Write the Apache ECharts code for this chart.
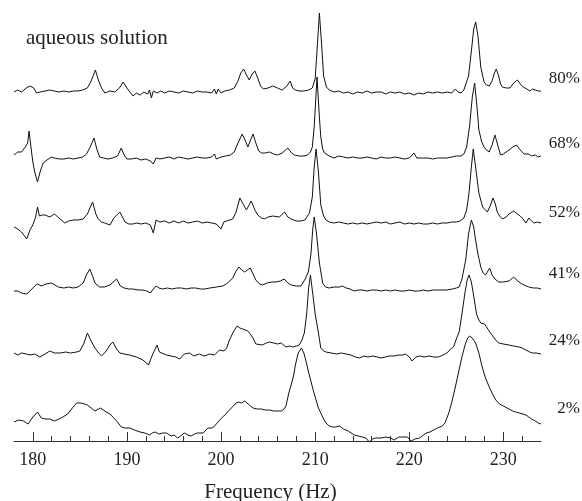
<!DOCTYPE html>
<html>
<head>
<meta charset="utf-8">
<script src="https://cdn.jsdelivr.net/npm/echarts@6/dist/echarts.min.js"></script>
<style>html,body{margin:0;padding:0;background:#fff}#c{width:582px;height:501px}</style>
</head>
<body>
<div id="c"></div>
<script>
// Spectra: [frequency (Hz), intensity relative to trace baseline (arb. units)]
const s80 = [[178.0,-1],[178.4,1],[178.8,-1],[179.3,3],[179.7,5],[180.1,3],[180.4,-2],[180.8,-1],[181.3,0],[181.8,1],[182.3,0],[182.8,-1],[183.3,0],[183.8,-1],[184.3,0],[184.8,0],[185.3,1],[185.8,3],[186.2,10],[186.65,21],[187.0,10],[187.3,3],[187.65,-2],[188.2,0],[188.7,-1],[189.2,3],[189.6,9],[190.0,3],[190.3,-1],[190.65,-5],[191.0,-2],[191.4,-4],[191.8,-1],[192.2,-3],[192.4,1],[192.6,-7],[192.8,0],[193.2,-2],[193.6,0],[194.0,-2],[194.5,0],[195.0,-1],[195.5,-2],[196.0,0],[196.5,-1],[197.0,-2],[197.5,0],[198.0,-1],[198.5,-1],[199.0,-2],[199.3,2],[199.5,-3],[199.7,2],[200.0,-2],[200.4,0],[200.9,1],[201.4,3],[201.8,10],[202.1,18],[202.4,22],[202.7,16],[203.0,11],[203.3,17],[203.6,20],[203.9,13],[204.2,5],[204.5,2],[205.0,3],[205.5,5],[206.0,3],[206.5,1],[207.0,5],[207.35,10],[207.6,3],[207.9,1],[208.3,0],[208.8,0],[209.3,1],[209.7,3],[210.0,12],[210.2,40],[210.45,78],[210.7,45],[210.9,15],[211.2,4],[211.5,1],[212.0,-1],[212.5,0],[213.0,-2],[213.5,-1],[214.0,-3],[214.5,-1],[215.0,-2],[215.5,0],[216.0,-2],[216.5,-1],[217.0,-1],[217.5,-3],[218.0,-1],[218.5,-2],[219.0,-1],[219.5,-3],[220.0,-2],[220.5,-4],[221.0,-2],[221.5,-3],[222.0,-1],[222.5,-2],[223.0,-1],[223.5,-2],[224.0,-1],[224.5,-2],[224.9,2],[225.2,-1],[225.5,-2],[225.8,1],[226.0,3],[226.3,15],[226.6,40],[226.85,62],[227.06,69],[227.3,55],[227.6,24],[227.95,9],[228.2,6],[228.5,5],[228.8,10],[229.05,18],[229.25,22],[229.5,15],[229.7,7],[229.9,4],[230.3,3],[230.7,3],[231.1,8],[231.5,11],[231.8,7],[232.1,4],[232.5,2],[232.8,0],[233.1,2],[233.4,1],[233.7,0],[234.0,0]];
const s68 = [[178.0,2],[178.4,5],[178.8,5],[179.2,10],[179.45,14],[179.6,26],[179.8,10],[180.0,-5],[180.2,-15],[180.5,-25],[180.8,-14],[181.1,-6],[181.5,-3],[182.0,0],[182.3,-1],[182.8,-2],[183.3,-2],[183.8,-1],[184.3,-2],[184.8,-1],[185.3,0],[185.7,3],[186.1,10],[186.5,19],[186.8,8],[187.1,0],[187.5,-1],[188.0,-2],[188.5,-1],[189.0,1],[189.4,9],[189.7,2],[190.0,-2],[190.5,-2],[191.0,-1],[191.5,-3],[192.0,-2],[192.5,-4],[192.8,-7],[193.1,-1],[193.5,-2],[194.0,-1],[194.5,0],[195.0,-2],[195.5,0],[196.0,-1],[196.5,-2],[197.0,-1],[197.5,0],[198.0,-1],[198.5,-1],[199.0,0],[199.3,3],[199.5,-2],[200.0,0],[200.5,1],[201.0,2],[201.4,5],[201.8,14],[202.25,23],[202.6,16],[202.85,10],[203.1,16],[203.4,23],[203.7,14],[204.0,6],[204.3,4],[204.7,4],[205.15,5],[205.6,3],[206.0,2],[206.5,4],[207.1,9],[207.5,4],[207.8,2],[208.3,1],[208.8,1],[209.2,2],[209.5,5],[209.7,10],[209.9,30],[210.2,80],[210.45,40],[210.6,20],[210.8,8],[211.0,4],[211.5,1],[212.0,-1],[212.5,1],[213.0,0],[213.5,-1],[214.0,0],[214.5,-1],[215.0,-1],[215.5,0],[216.0,-1],[216.5,-2],[217.0,0],[217.5,-1],[218.0,-1],[218.5,0],[219.0,-1],[219.5,-2],[220.0,-1],[220.5,4],[220.8,-1],[221.5,-1],[222.0,-1],[222.5,-2],[223.0,-1],[223.5,-1],[224.0,-1],[224.5,0],[225.0,1],[225.5,1],[225.8,3],[226.1,10],[226.4,30],[226.7,60],[226.95,74],[227.2,50],[227.4,27],[227.7,15],[227.95,10],[228.2,7],[228.5,5],[228.8,12],[229.1,22],[229.4,12],[229.7,2],[230.0,3],[230.6,7],[231.0,10],[231.4,12],[231.8,7],[232.2,3],[232.7,3],[233.0,1],[233.4,2],[233.7,0],[234.0,1]];
const s52 = [[178.0,-5],[178.4,-7],[178.8,-10],[179.35,-17],[179.7,-8],[180.0,-3],[180.3,5],[180.5,15],[180.7,6],[181.0,7],[181.3,7],[181.8,5],[182.3,8],[182.9,3],[183.4,-1],[183.8,1],[184.3,2],[184.8,2],[185.35,3],[185.8,8],[186.35,20],[186.7,8],[186.95,3],[187.3,0],[187.65,-1],[188.2,-3],[188.6,4],[189.25,10],[189.8,0],[190.2,-2],[190.65,-2],[191.0,-1],[191.5,-2],[192.0,-1],[192.5,-3],[192.8,-11],[193.1,2],[193.5,0],[194.0,1],[194.5,-1],[195.0,1],[195.5,-1],[196.0,1],[196.5,-1],[197.0,0],[197.5,1],[198.0,-1],[198.5,0],[199.0,-1],[199.5,-2],[200.0,-7],[200.3,0],[200.6,1],[201.25,3],[201.6,10],[202.0,24],[202.4,17],[202.7,12],[203.2,21],[203.6,12],[203.9,7],[204.3,4],[204.6,3],[205.0,5],[205.5,6],[206.2,5],[206.75,10],[207.1,5],[207.45,3],[208.0,1],[208.5,1],[208.9,2],[209.4,9],[209.7,25],[209.9,55],[210.1,73],[210.35,50],[210.6,17],[210.9,6],[211.15,2],[211.5,0],[212.0,-1],[212.5,0],[213.0,-1],[213.5,-2],[214.0,-1],[214.5,-2],[215.0,-1],[215.5,-2],[216.0,-1],[216.5,0],[217.0,-1],[217.5,0],[218.0,-2],[218.5,-1],[219.0,0],[219.5,-2],[220.0,-1],[220.5,-2],[221.0,-1],[221.5,-2],[222.0,-2],[222.5,-1],[223.0,-2],[223.5,-1],[224.0,-1],[224.5,0],[225.0,0],[225.4,1],[225.8,4],[226.1,12],[226.35,29],[226.6,55],[226.8,73],[227.05,55],[227.4,29],[227.8,15],[228.3,10],[228.6,16],[228.9,24],[229.15,18],[229.35,10],[229.6,6],[229.9,3],[230.3,5],[230.6,8],[231.1,11],[231.5,8],[231.8,6],[232.1,3],[232.4,-1],[232.7,4],[233.0,1],[233.25,-1],[233.6,0],[234.0,-1]];
const s41 = [[178.0,-2],[178.4,-2],[178.8,-4],[179.35,-5],[179.8,-1],[180.2,3],[180.5,5],[180.9,3],[181.4,5],[182.0,6],[182.7,2],[183.3,1],[183.8,2],[184.3,1],[184.8,2],[185.35,6],[185.7,14],[186.05,20],[186.35,13],[186.6,6],[187.1,2],[187.6,2],[188.2,4],[188.9,10],[189.3,3],[189.7,1],[190.2,0],[190.65,0],[191.2,-1],[191.7,-1],[192.1,-2],[192.5,-4],[192.8,0],[193.1,3],[193.4,1],[193.8,0],[194.3,1],[194.8,0],[195.3,1],[195.8,1],[196.3,0],[196.8,1],[197.3,1],[197.8,0],[198.3,0],[198.8,1],[199.5,2],[200.2,3],[200.7,6],[201.25,11],[201.6,18],[201.9,22],[202.2,19],[202.5,17],[202.8,19],[203.1,21],[203.4,15],[203.7,9],[204.1,5],[204.4,4],[204.9,6],[205.4,7],[205.85,7],[206.3,8],[206.7,10],[207.1,6],[207.45,4],[208.0,3],[208.5,3],[209.0,11],[209.3,18],[209.55,35],[209.75,60],[209.9,72],[210.15,55],[210.45,26],[210.8,6],[211.1,2],[211.5,1],[212.0,2],[212.6,2],[212.9,3],[213.3,1],[213.7,0],[214.15,-2],[214.6,-1],[215.0,-1],[215.5,-2],[216.0,-1],[216.5,-1],[217.0,-2],[217.5,-1],[218.0,-2],[218.5,-1],[219.0,-2],[219.5,-2],[220.0,-1],[220.5,-2],[221.0,-2],[221.5,-1],[222.0,-2],[222.5,-1],[223.0,-1],[223.5,-1],[224.0,-1],[224.6,0],[225.0,1],[225.3,2],[225.6,10],[226.0,29],[226.3,55],[226.6,69],[226.85,62],[227.05,49],[227.3,35],[227.6,22],[227.85,16],[228.1,14],[228.3,17],[228.55,21],[228.8,14],[229.1,10],[229.5,7],[230.0,7],[230.6,8],[231.1,12],[231.4,9],[231.8,6],[232.2,4],[232.7,2],[233.2,1],[233.6,1],[234.0,0]];
const s24 = [[178.0,1],[178.4,-1],[178.8,1],[179.3,0],[179.7,-1],[180.2,0],[180.75,-3],[181.3,0],[181.8,3],[182.3,1],[182.9,1],[183.5,2],[184.0,1],[184.65,2],[185.0,3],[185.4,10],[185.8,21],[186.2,13],[186.6,6],[187.0,1],[187.3,-2],[187.8,3],[188.2,9],[188.5,12],[188.9,5],[189.25,1],[189.7,0],[190.3,-1],[191.0,-3],[191.7,-6],[192.3,-11],[192.7,-1],[193.0,5],[193.2,9],[193.45,2],[193.65,0],[194.2,-1],[194.7,-2],[195.2,-3],[195.6,-5],[196.1,0],[196.65,1],[197.1,-2],[197.7,0],[198.2,-2],[198.8,0],[199.3,-1],[199.85,4],[200.3,3],[200.6,6],[200.9,14],[201.3,22],[201.7,28],[202.0,26],[202.3,25],[202.85,23],[203.1,20],[203.4,16],[203.7,10],[203.9,8],[204.4,9],[204.8,11],[205.15,12],[205.6,11],[206.0,10],[206.4,11],[206.9,7],[207.3,8],[207.6,7],[208.0,8],[208.3,9],[208.6,14],[208.85,21],[209.1,40],[209.3,65],[209.5,79],[209.75,60],[210.0,40],[210.3,24],[210.6,6],[210.9,3],[211.15,2],[211.7,1],[212.3,0],[212.8,1],[213.3,0],[213.8,-1],[214.3,-3],[214.7,-4],[215.2,-2],[215.6,-3],[216.1,-2],[216.6,-3],[217.0,-4],[217.5,-3],[217.9,-2],[218.4,-2],[218.9,-1],[219.3,-1],[219.6,0],[220.0,-3],[220.3,-7],[220.7,-3],[221.1,-2],[221.6,-3],[222.1,-2],[222.6,-3],[223.1,-3],[223.6,-1],[224.0,1],[224.4,5],[224.7,7],[225.0,15],[225.3,22],[225.6,40],[225.9,60],[226.15,74],[226.35,79],[226.6,72],[226.9,55],[227.15,40],[227.4,34],[227.6,31],[227.8,31],[228.0,30],[228.15,31],[228.35,25],[228.55,22],[228.8,19],[229.1,15],[229.5,11],[230.0,10],[230.6,9],[231.1,8],[231.65,7],[232.0,6],[232.4,4],[232.8,2],[233.1,1],[233.5,1],[234.0,0]];
const s02 = [[178.0,-2],[178.5,0],[179.0,-1],[179.5,-4],[180.0,3],[180.5,8],[180.9,2],[181.3,1],[181.8,1],[182.3,-1],[182.8,1],[183.2,3],[183.7,6],[184.2,12],[184.65,17],[185.1,17],[185.5,16],[185.8,15],[186.2,12],[186.6,9],[187.2,12],[187.5,10],[187.8,8],[188.2,6],[188.5,3],[189.0,-2],[189.4,-7],[189.8,-8],[190.3,-8],[190.8,-10],[191.4,-12],[191.9,-13],[192.4,-15],[192.7,-13],[193.0,-12],[193.4,-14],[193.8,-13],[194.2,-13],[194.7,-16],[195.0,-15],[195.4,-18],[195.7,-16],[196.1,-13],[196.5,-15],[196.8,-16],[197.2,-14],[197.5,-13],[198.1,-13],[198.6,-8],[199.1,-8],[199.5,-4],[199.85,0],[200.3,4],[200.7,8],[201.2,13],[201.6,17],[201.9,18],[202.15,17],[202.5,19],[202.7,18],[203.0,15],[203.4,12],[203.8,11],[204.3,11],[204.7,10],[205.15,10],[205.6,9],[206.0,9],[206.4,9],[206.7,11],[206.9,14],[207.2,27],[207.45,35],[207.7,44],[207.9,55],[208.2,67],[208.55,72],[208.8,67],[209.0,60],[209.3,48],[209.6,37],[209.85,28],[210.1,20],[210.35,12],[210.6,7],[210.9,1],[211.15,-3],[211.5,-6],[211.85,-7],[212.2,-7],[212.6,-6],[213.0,-9],[213.5,-11],[214.15,-15],[214.6,-16],[215.0,-17],[215.4,-18],[215.75,-22],[216.1,-19],[216.45,-18],[217.0,-18],[217.5,-17],[218.0,-18],[218.4,-20],[218.9,-17],[219.3,-17],[219.8,-17],[220.2,-21],[220.6,-19],[221.1,-18],[221.5,-15],[221.8,-13],[222.2,-12],[222.6,-10],[223.0,-8],[223.5,-6],[223.8,-3],[224.2,7],[224.5,17],[224.9,33],[225.2,46],[225.6,63],[225.9,74],[226.15,81],[226.4,84],[226.7,82],[227.05,77],[227.4,67],[227.75,53],[228.1,42],[228.5,33],[228.9,25],[229.2,20],[229.6,16],[230.0,14],[230.6,11],[231.0,9],[231.3,8],[231.7,7],[232.1,6],[232.4,5],[232.7,3],[233.0,1],[233.4,-1],[233.7,-3],[234.0,-4]];

const spectra = [s80, s68, s52, s41, s24, s02];
const traceLabels = ['80%', '68%', '52%', '41%', '24%', '2%'];
const offsets = [350, 284, 219, 152, 87, 21];
const labelY = [77.5, 142, 211, 272.5, 339, 407.5];
const xMin = 178, xMax = 234;        // full axis extent
const minorStep = 2;                 // minor tick spacing (Hz)
const majorMin = 180, majorMax = 230, majorStep = 10; // labelled ticks
const FONT = "'Liberation Serif','Times New Roman',serif";
const INK = '#222';

const GRID_L = 14, GRID_R = 41, GRID_T = 1, GRID_B = 60, W = 582;
const pxPerHz = (W - GRID_L - GRID_R) / (xMax - xMin);
// second grid spanning exactly 180..230 so its interval-10 ticks fall on the major values
const grid2Left = GRID_L + (majorMin - xMin) * pxPerHz;
const grid2Right = GRID_R + (xMax - majorMax) * pxPerHz;

const chart = echarts.init(document.getElementById('c'), null, {renderer: 'canvas'});
const series = spectra.map((s, i) => ({
  type: 'line',
  name: traceLabels[i],
  xAxisIndex: 0,
  yAxisIndex: 0,
  data: s.map(p => [p[0], p[1] + offsets[i]]),
  showSymbol: false,
  symbol: 'none',
  clip: false,
  silent: true,
  animation: false,
  lineStyle: {color: '#111', width: 1}
}));

const graphics = traceLabels.map((t, i) => ({
  type: 'text',
  right: 2,
  top: labelY[i] - 7,
  style: {text: t, font: "17px " + FONT, fill: INK}
}));
graphics.push({
  type: 'text', left: 26, top: 28,
  style: {text: 'aqueous solution', font: "21px " + FONT, fill: INK}
});

chart.setOption({
  animation: false,
  backgroundColor: '#fff',
  grid: [
    {left: GRID_L, right: GRID_R, top: GRID_T, bottom: GRID_B, containLabel: false, outerBoundsMode: 'none'},
    {left: grid2Left, right: grid2Right, top: GRID_T, bottom: GRID_B, containLabel: false, outerBoundsMode: 'none'}
  ],
  xAxis: [{
    gridIndex: 0, type: 'value', min: xMin, max: xMax, interval: minorStep, position: 'bottom',
    name: 'Frequency (Hz)', nameLocation: 'middle', nameGap: 41,
    nameTextStyle: {fontFamily: FONT, fontSize: 21, color: INK, padding: [0, 14, 0, 0]},
    axisLine: {show: true, onZero: false, lineStyle: {color: '#333', width: 1}},
    axisTick: {show: true, inside: true, length: 5, lineStyle: {color: '#333'}},
    axisLabel: {
      show: true, margin: 10, fontFamily: FONT, fontSize: 18, color: INK,
      showMinLabel: false, showMaxLabel: false,
      formatter: v => (v % majorStep === 0 ? String(v) : '')
    },
    splitLine: {show: false}
  }, {
    gridIndex: 1, type: 'value', min: majorMin, max: majorMax, interval: majorStep, position: 'bottom',
    axisLine: {show: true, onZero: false, lineStyle: {color: '#333', width: 1}},
    axisTick: {show: true, inside: true, length: 9, lineStyle: {color: '#333'}},
    axisLabel: {show: false},
    splitLine: {show: false}
  }],
  yAxis: [
    {gridIndex: 0, type: 'value', min: 0, max: 440, show: false},
    {gridIndex: 1, type: 'value', min: 0, max: 440, show: false}
  ],
  series: series,
  graphic: graphics
});
</script>
</body>
</html>
